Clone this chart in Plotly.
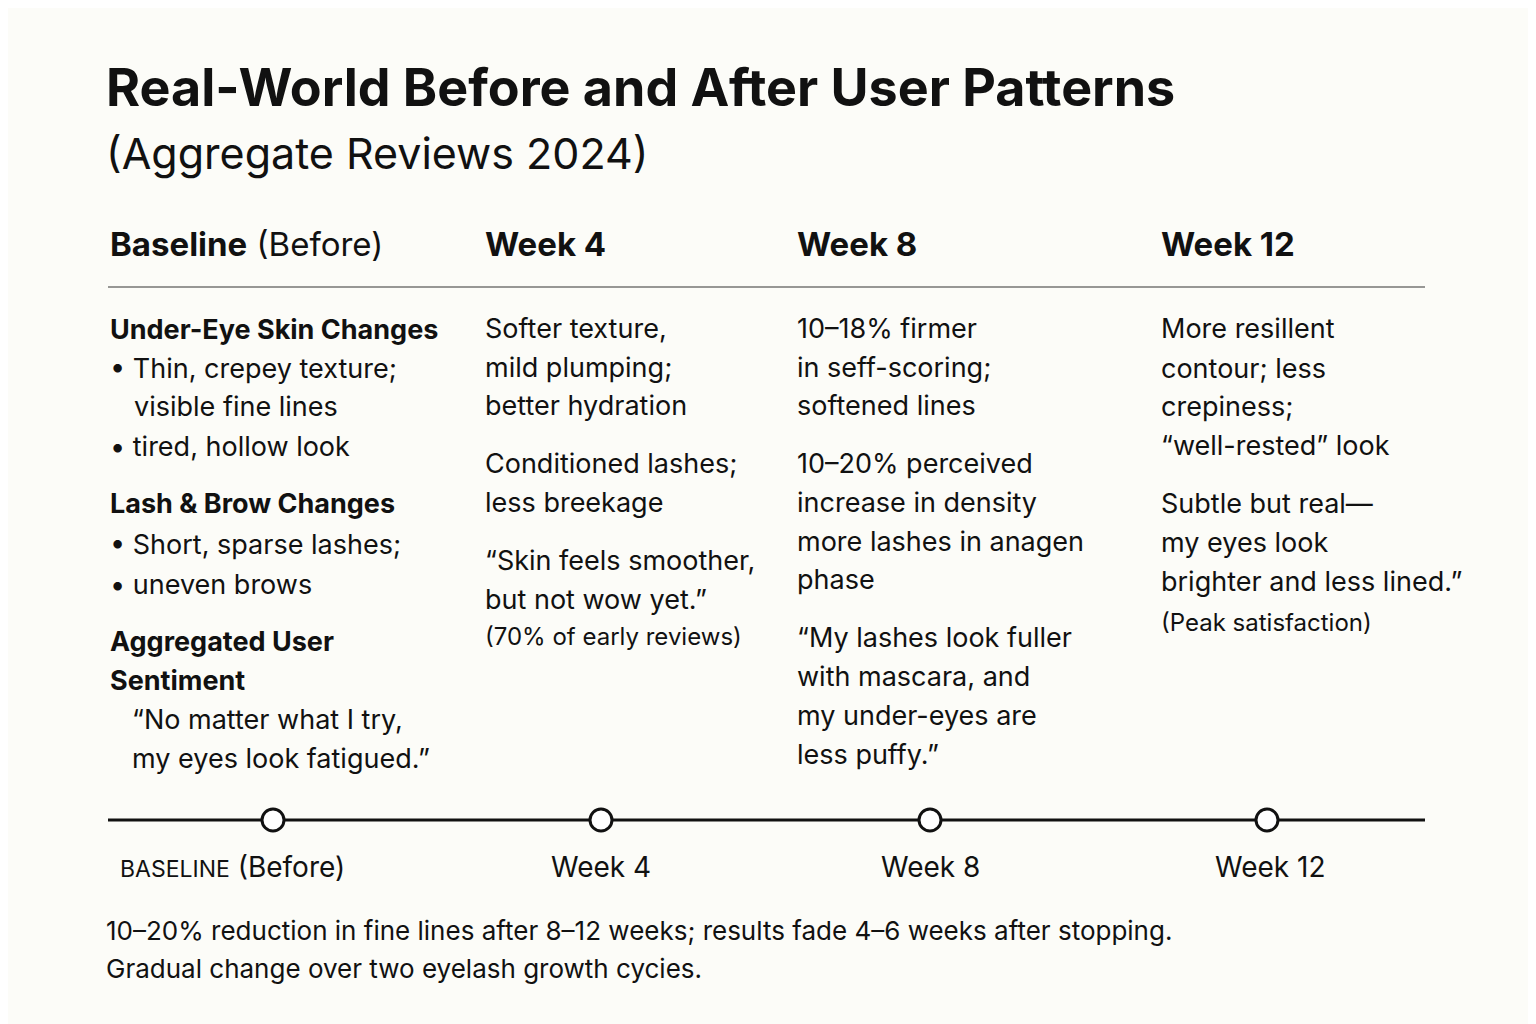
import plotly.graph_objects as go

# timeline stages
stages = ["Baseline", "Week 4", "Week 8", "Week 12"]
stage_x = [273, 601, 930, 1267]
stage_labels = ["<span style='font-size:23px'>BASELINE</span> (Before)", "Week 4", "Week 8", "Week 12"]
label_x = [232, 601, 930, 1270]

headers = ["<b>Baseline</b> (Before)", "<b>Week 4</b>", "<b>Week 8</b>", "<b>Week 12</b>"]
col_x = [108, 483, 795, 1159]

# (text, x offset, y, size)
col1 = [("<b>Under-Eye Skin Changes</b>", 0, 329, 27), ("• Thin, crepey texture;", 0, 368, 27),
        ("visible fine lines", 24, 406, 27), ("• tired, hollow look", 0, 446, 27),
        ("<b>Lash & Brow Changes</b>", 0, 503, 27), ("• Short, sparse lashes;", 0, 544, 27),
        ("• uneven brows", 0, 584, 27), ("<b>Aggregated User</b>", 0, 641, 27),
        ("<b>Sentiment</b>", 0, 680, 27), ("“No matter what I try,", 22, 719, 27),
        ("my eyes look fatigued.”", 22, 758, 27)]
col2 = [("Softer texture,", 0, 328, 27), ("mild plumping;", 0, 367, 27), ("better hydration", 0, 405, 27),
        ("Conditioned lashes;", 0, 463, 27), ("less breekage", 0, 502, 27),
        ("“Skin feels smoother,", 0, 560, 27), ("but not wow yet.”", 0, 599, 27),
        ("(70% of early reviews)", 0, 636, 24)]
col3 = [("10–18% firmer", 0, 328, 27), ("in seff-scoring;", 0, 367, 27), ("softened lines", 0, 405, 27),
        ("10–20% perceived", 0, 463, 27), ("increase in density", 0, 502, 27),
        ("more lashes in anagen", 0, 541, 27), ("phase", 0, 579, 27),
        ("“My lashes look fuller", 0, 637, 27), ("with mascara, and", 0, 676, 27),
        ("my under-eyes are", 0, 715, 27), ("less puffy.”", 0, 754, 27)]
col4 = [("More resillent", 0, 328, 27), ("contour; less", 0, 368, 27), ("crepiness;", 0, 406, 27),
        ("“well-rested” look", 0, 445, 27), ("Subtle but real—", 0, 503, 27),
        ("my eyes look", 0, 542, 27), ("brighter and less lined.”", 0, 581, 27),
        ("(Peak satisfaction)", 0, 622, 24)]
columns = [col1, col2, col3, col4]

footer = ["10–20% reduction in fine lines after 8–12 weeks; results fade 4–6 weeks after stopping.",
          "Gradual change over two eyelash growth cycies."]

FONT = "Inter, Roboto, sans-serif"
INK = "#111111"

fig = go.Figure()
fig.add_trace(go.Scatter(x=[108, 1425], y=[820, 820], mode="lines",
                         line=dict(color=INK, width=3), hoverinfo="skip"))
fig.add_trace(go.Scatter(x=stage_x, y=[820] * 4, mode="markers",
                         marker=dict(size=22, color="white", line=dict(color=INK, width=3)),
                         text=stages, hoverinfo="text"))

ann = []
def txt(t, x, y, size, anchor="left", color=INK):
    ann.append(dict(text=t, x=x, y=y, xref="x", yref="y", showarrow=False, xanchor=anchor,
                    yanchor="middle", font=dict(family=FONT, size=size, color=color)))

txt("<b>Real-World Before and After User Patterns</b>", 104, 87, 52)
txt("(Aggregate Reviews 2024)", 104, 153, 43)
for h, x in zip(headers, col_x):
    txt(h, x, 244, 33)
for col, x in zip(columns, col_x):
    for t, dx, y, s in col:
        txt(t, x + dx, y, s)
for l, x in zip(stage_labels, label_x):
    txt(l, x, 867, 28, anchor="center")
for i, f in enumerate(footer):
    txt(f, 104, 930 + 38 * i, 26)

fig.add_shape(type="line", x0=108, x1=1425, y0=287, y1=287, xref="x", yref="y",
              line=dict(color="#333333", width=1.2))

# page body margin shifts the plot ~8px, so offset the ranges
fig.update_layout(width=1536, height=1024, margin=dict(l=0, r=0, t=0, b=0),
                  paper_bgcolor="#fcfcf8", plot_bgcolor="#fcfcf8", showlegend=False,
                  annotations=ann,
                  xaxis=dict(range=[8, 1544], visible=False, fixedrange=True),
                  yaxis=dict(range=[1032, 8], visible=False, fixedrange=True))
fig.write_html("out.html")
